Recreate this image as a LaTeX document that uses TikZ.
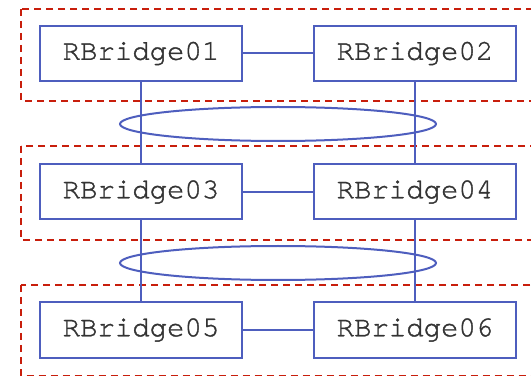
\documentclass[tikz,border=0pt]{standalone}
\usepackage{fontspec}
\setmonofont[FakeBold=1.2]{texgyrecursor-regular.otf}
\usetikzlibrary{shapes.geometric}
\definecolor{rbblue}{RGB}{78,94,190}
\definecolor{grpred}{RGB}{200,30,12}
\definecolor{txtgray}{RGB}{51,51,51}
\tikzset{
  rbox/.style={draw=rbblue, line width=2pt, fill=white, minimum width=202pt, minimum height=55pt, inner sep=0pt,
    text=txtgray, font=\ttfamily\fontsize{29}{30}\selectfont},
  grp/.style={draw=grpred, line width=1.8pt, dash pattern=on 7pt off 5pt},
  link/.style={draw=rbblue, line width=2pt},
  lag/.style={draw=rbblue, line width=2pt, ellipse, minimum width=316pt, minimum height=34pt, inner sep=0pt}
}
\begin{document}
\begin{tikzpicture}[x=1pt,y=-1pt]
\useasboundingbox (0,0) rectangle (531,377);
\draw[grp] (21,9) rectangle (545,101);
\draw[grp] (21,146) rectangle (545,240);
\draw[grp] (21,285) rectangle (545,375.5);
\node[lag] (e1) at (278,124) {};
\node[lag] (e2) at (278,263) {};
\node[rbox] (r1) at (141,53.5) {RBridge01};
\node[rbox] (r2) at (415,53.5) {RBridge02};
\node[rbox] (r3) at (141,192) {RBridge03};
\node[rbox] (r4) at (415,192) {RBridge04};
\node[rbox] (r5) at (141,330) {RBridge05};
\node[rbox] (r6) at (415,330) {RBridge06};
\draw[link] (r1) -- (r2);
\draw[link] (r3) -- (r4);
\draw[link] (r5) -- (r6);
\draw[link] (r1) -- (r3);
\draw[link] (r3) -- (r5);
\draw[link] (r2) -- (r4);
\draw[link] (r4) -- (r6);
\end{tikzpicture}
\end{document}
